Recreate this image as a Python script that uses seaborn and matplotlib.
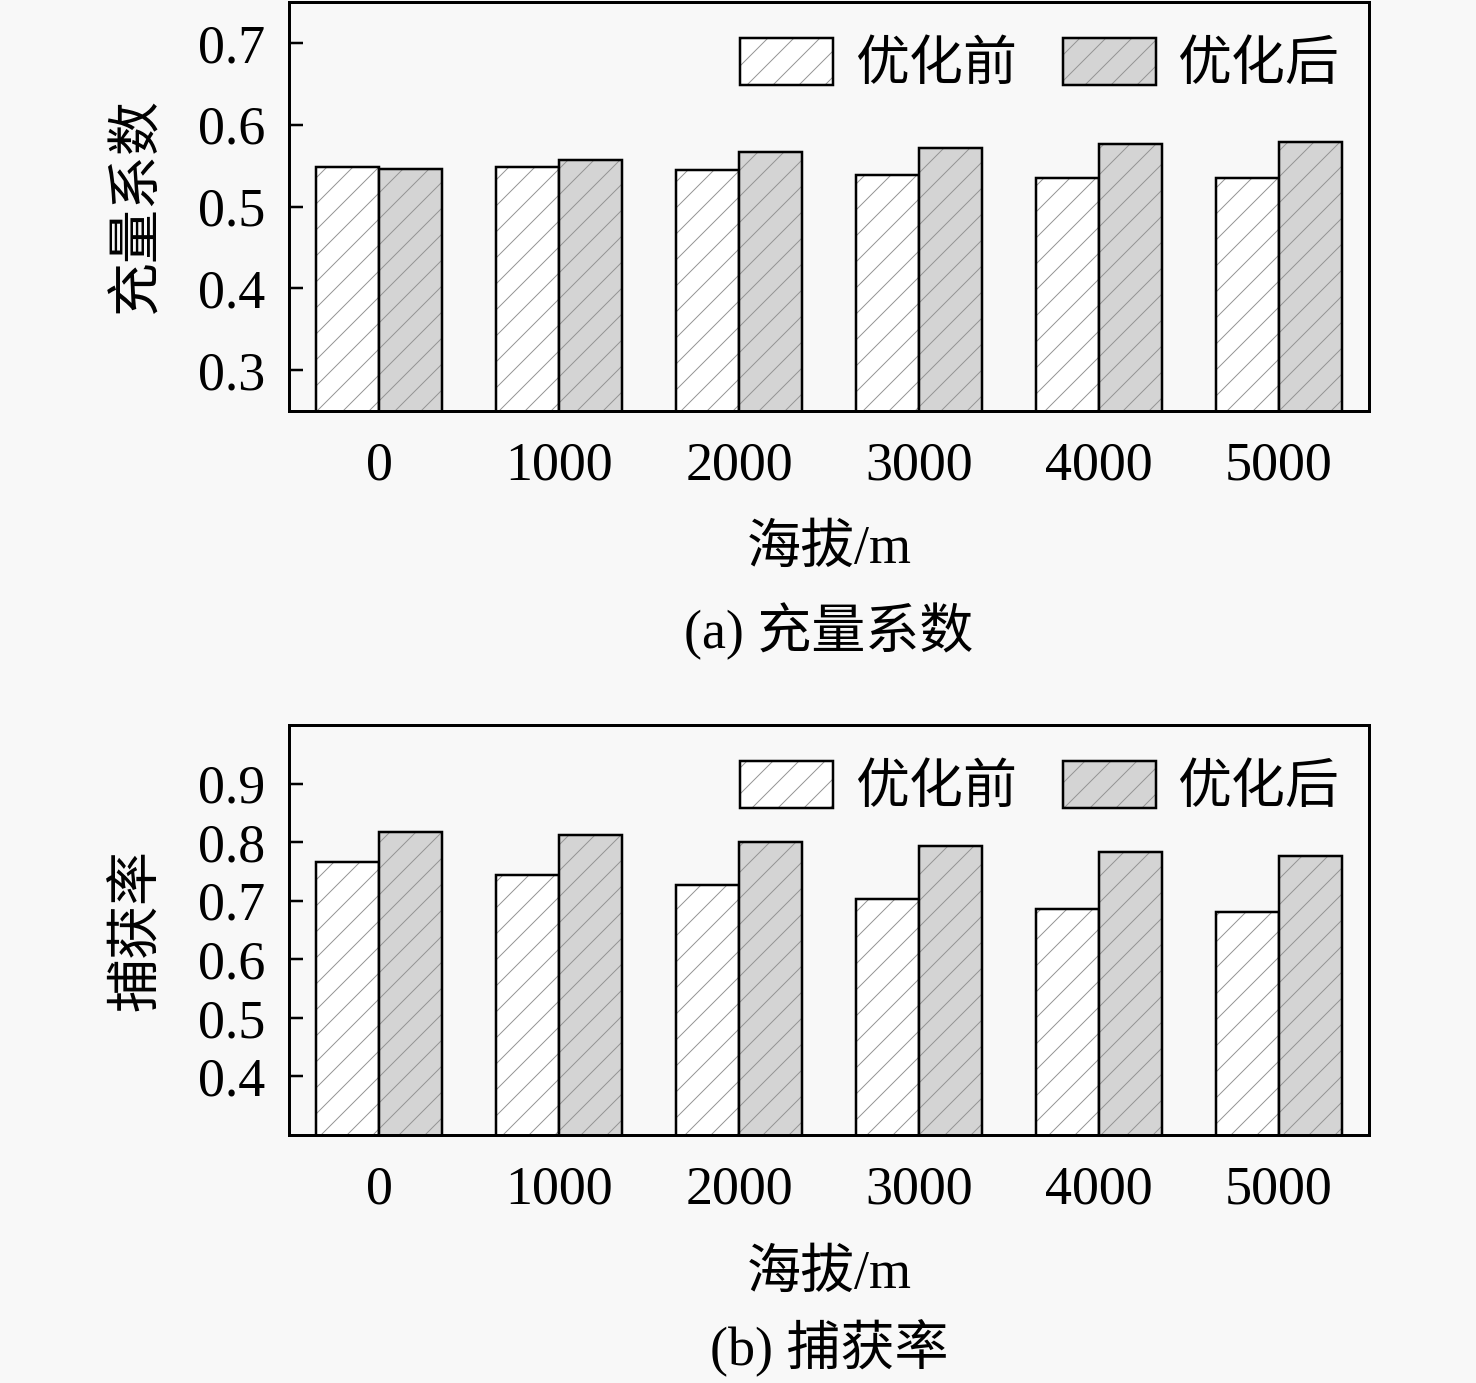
import matplotlib
matplotlib.use("Agg")
import matplotlib.pyplot as plt
import matplotlib.patches as mpatches
import matplotlib.colors as mcolors
import seaborn as sns
import pandas as pd

# altitude categories (m)
altitude = ["0", "1000", "2000", "3000", "4000", "5000"]
groups = ["优化前", "优化后"]

# (a) charge coefficient
charge_before = [0.548, 0.548, 0.545, 0.539, 0.535, 0.535]
charge_after = [0.546, 0.557, 0.567, 0.572, 0.576, 0.579]

# (b) trapping ratio
trap_before = [0.766, 0.744, 0.727, 0.703, 0.686, 0.681]
trap_after = [0.817, 0.812, 0.800, 0.793, 0.784, 0.776]

DPI = 78
W, H = 1476, 1383


def pt(px):
    # pixels -> points at the figure dpi
    return px * 72.0 / DPI


sns.set_style("white")
plt.rcParams["font.family"] = ["Liberation Serif", "Noto Sans CJK SC", "DejaVu Sans"]
plt.rcParams["text.color"] = "black"
plt.rcParams["axes.labelcolor"] = "black"
plt.rcParams["xtick.color"] = "black"
plt.rcParams["ytick.color"] = "black"
plt.rcParams["hatch.linewidth"] = 0.9
FS = pt(54)
BG = "#f8f8f8"
HATCH_C = "#939393"


def make_df(before, after):
    return pd.DataFrame({
        "altitude": altitude * 2,
        "value": before + after,
        "group": [groups[0]] * len(altitude) + [groups[1]] * len(altitude),
    })


def draw(ax, df, ylim, yticks, ylabel, sub, sub_y):
    sns.barplot(data=df, x="altitude", y="value", hue="group", hue_order=groups,
                palette=["white", "#d4d4d4"], edgecolor="black", linewidth=pt(2.5),
                width=0.7, saturation=1, legend=False, ax=ax)
    for p in ax.patches:
        p.set_hatch("/")
        p._hatch_color = mcolors.to_rgba(HATCH_C)
    ax.set_ylim(*ylim)
    ax.set_xlim(-0.5, 5.5)
    ax.set_yticks(yticks)
    ax.set_yticklabels([f"{t:.1f}" for t in yticks])
    ax.tick_params(axis="y", direction="in", length=pt(14), width=pt(2.5),
                   labelsize=FS, pad=pt(24), left=True)
    ax.tick_params(axis="x", length=0, labelsize=FS, pad=pt(30))
    ax.set_facecolor(BG)
    for s in ax.spines.values():
        s.set_linewidth(pt(3))
        s.set_color("black")
    ax.set_ylabel(ylabel, fontsize=FS)
    ax.yaxis.set_label_coords(-0.116, 0.5)
    ax.set_xlabel("海拔/m", fontsize=FS)
    ax.xaxis.set_label_coords(0.5, -0.278)
    handles = [
        mpatches.Patch(facecolor="white", edgecolor="black", linewidth=pt(2.5), hatch="/"),
        mpatches.Patch(facecolor="#d4d4d4", edgecolor="black", linewidth=pt(2.5), hatch="/"),
    ]
    leg = ax.legend(handles, groups, loc="upper right", ncol=2, frameon=False,
                    fontsize=FS, handlelength=1.72, handleheight=0.97,
                    handletextpad=0.4, columnspacing=0.85,
                    borderaxespad=0.15, bbox_to_anchor=(1.0, 0.985))
    for h in leg.legend_handles:
        h._hatch_color = mcolors.to_rgba(HATCH_C)
    fig.text(0.5 * (289 + 1369) / W, 1 - sub_y / H, sub, fontsize=FS,
             ha="center", va="center")


fig = plt.figure(figsize=(W / DPI, H / DPI), dpi=DPI, facecolor=BG)
left = 289 / W
width = (1369 - 289) / W
ax1 = fig.add_axes([left, 1 - 411 / H, width, (411 - 2) / H])
ax2 = fig.add_axes([left, 1 - 1135 / H, width, (1135 - 725) / H])

draw(ax1, make_df(charge_before, charge_after), (0.25, 0.75),
     [0.3, 0.4, 0.5, 0.6, 0.7], "充量系数", "(a) 充量系数", 631)
draw(ax2, make_df(trap_before, trap_after), (0.3, 1.0),
     [0.4, 0.5, 0.6, 0.7, 0.8, 0.9], "捕获率", "(b) 捕获率", 1348)

fig.savefig("out.png", dpi=DPI, facecolor=BG)
